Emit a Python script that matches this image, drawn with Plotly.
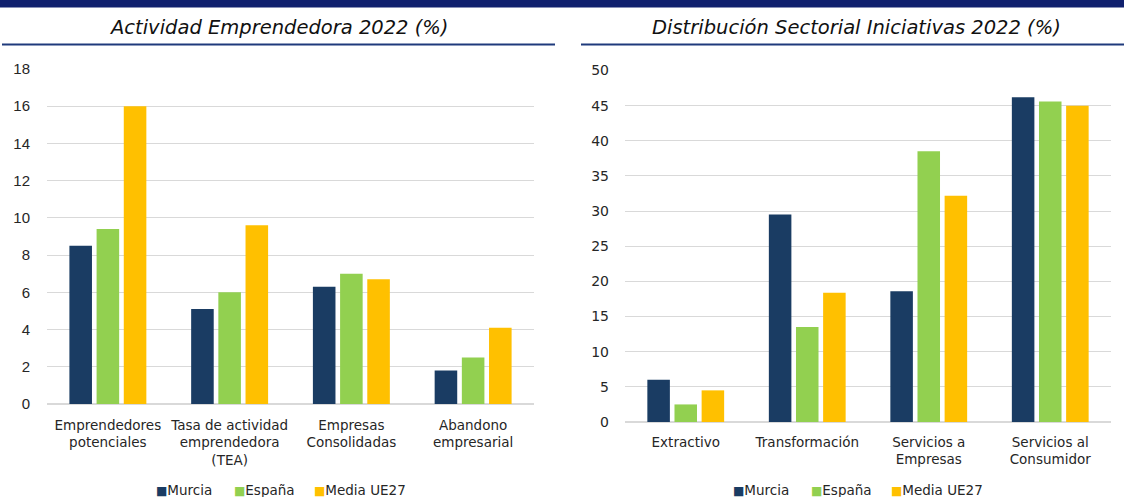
import plotly.graph_objects as go

W, H = 1124, 497

left_title = "Actividad Emprendedora 2022 (%)"
right_title = "Distribución Sectorial Iniciativas 2022 (%)"

series_names = ["Murcia", "España", "Media UE27"]
series_colors = ["#1a3c63", "#92d050", "#ffc000"]

left_categories = ["Emprendedores<br>potenciales", "Tasa de actividad<br>emprendedora<br>(TEA)",
                   "Empresas<br>Consolidadas", "Abandono<br>empresarial"]
left_murcia = [8.5, 5.1, 6.3, 1.8]
left_espana = [9.4, 6.0, 7.0, 2.5]
left_ue27 = [16.0, 9.6, 6.7, 4.1]
left_ticks = [0, 2, 4, 6, 8, 10, 12, 14, 16, 18]

right_categories = ["Extractivo", "Transformación", "Servicios a<br>Empresas", "Servicios al<br>Consumidor"]
right_murcia = [6.0, 29.5, 18.6, 46.2]
right_espana = [2.5, 13.5, 38.5, 45.6]
right_ue27 = [4.5, 18.4, 32.2, 45.0]
right_ticks = [0, 5, 10, 15, 20, 25, 30, 35, 40, 45, 50]


def px_x(x):
    return x / W


def px_y(y):
    return 1 - y / H


fig = go.Figure()

left_vals = [left_murcia, left_espana, left_ue27]
right_vals = [right_murcia, right_espana, right_ue27]

for name, color, vals in zip(series_names, series_colors, left_vals):
    fig.add_trace(go.Bar(x=left_categories, y=vals, name=name, marker_color=color,
                         marker_line_width=0, xaxis="x", yaxis="y", showlegend=False))
for name, color, vals in zip(series_names, series_colors, right_vals):
    fig.add_trace(go.Bar(x=right_categories, y=vals, name=name, marker_color=color,
                         marker_line_width=0, xaxis="x2", yaxis="y2", showlegend=False))

grid = "#d9d9d9"
txt = "#262626"
cat_font = dict(family="DejaVu Sans", size=13.5, color=txt)

fig.update_layout(
    template="none",
    width=W, height=H,
    margin=dict(l=0, r=0, t=0, b=0, pad=0, autoexpand=False),
    paper_bgcolor="white", plot_bgcolor="white",
    barmode="group", bargap=0.33, bargroupgap=0.17,
    showlegend=False,
    xaxis=dict(domain=[px_x(47), px_x(534)], anchor="y", showgrid=False, showline=False,
               zeroline=False, ticks="", tickfont=cat_font, tickangle=0, automargin=False,
               ticklabelstandoff=11),
    yaxis=dict(domain=[px_y(404), px_y(69)], anchor="x", range=[0, 18], tickvals=left_ticks,
               showgrid=True, gridcolor=grid, gridwidth=1, zeroline=True, zerolinecolor=grid,
               zerolinewidth=1.5, showline=False, ticks="", automargin=False,
               tickfont=dict(family="Liberation Sans", size=15, color=txt),
               ticklabelstandoff=16),
    xaxis2=dict(domain=[px_x(625), px_x(1111)], anchor="y2", showgrid=False, showline=False,
                zeroline=False, ticks="", tickfont=cat_font, tickangle=0, automargin=False,
                ticklabelstandoff=10),
    yaxis2=dict(domain=[px_y(422), px_y(70.5)], anchor="x2", range=[0, 50], tickvals=right_ticks,
                showgrid=True, gridcolor=grid, gridwidth=1, zeroline=True, zerolinecolor=grid,
                zerolinewidth=1.5, showline=False, ticks="", automargin=False,
                tickfont=dict(family="DejaVu Sans", size=14, color=txt),
                ticklabelstandoff=15),
)

shapes = [
    dict(type="rect", xref="paper", yref="paper", x0=0, x1=1, y0=px_y(7.5), y1=1,
         fillcolor="#10206e", line_width=0, layer="above"),
    dict(type="line", xref="paper", yref="paper", x0=px_x(2), x1=px_x(555), y0=px_y(44.5), y1=px_y(44.5),
         line=dict(color="#1f3a7c", width=2)),
    dict(type="line", xref="paper", yref="paper", x0=px_x(581), x1=1, y0=px_y(44.5), y1=px_y(44.5),
         line=dict(color="#1f3a7c", width=2)),
]
fig.update_layout(shapes=shapes)

title_font = dict(family="DejaVu Sans", size=19.5, color="#111111")
fig.add_annotation(text=f"<i>{left_title}</i>", x=px_x(278), y=px_y(27), xref="paper", yref="paper",
                   showarrow=False, xanchor="center", yanchor="middle", font=title_font)
fig.add_annotation(text=f"<i>{right_title}</i>", x=px_x(856), y=px_y(27), xref="paper", yref="paper",
                   showarrow=False, xanchor="center", yanchor="middle", font=title_font)

# Legends (one per panel), drawn as text items with coloured square glyphs
legend_font = dict(family="DejaVu Sans", size=13.5, color=txt)
legend_offsets = [-125, -47, 33]
for center in (280, 857):
    for name, color, off in zip(series_names, series_colors, legend_offsets):
        fig.add_annotation(
            text=f"<span style='color:{color};font-size:12px'>■</span>{name}",
            x=px_x(center + off - 1), y=px_y(490), xref="paper", yref="paper",
            showarrow=False, xanchor="left", yanchor="middle", font=legend_font)

fig.write_html("out.html", config={"displayModeBar": False},
               post_script="document.body.style.margin='0px';")
